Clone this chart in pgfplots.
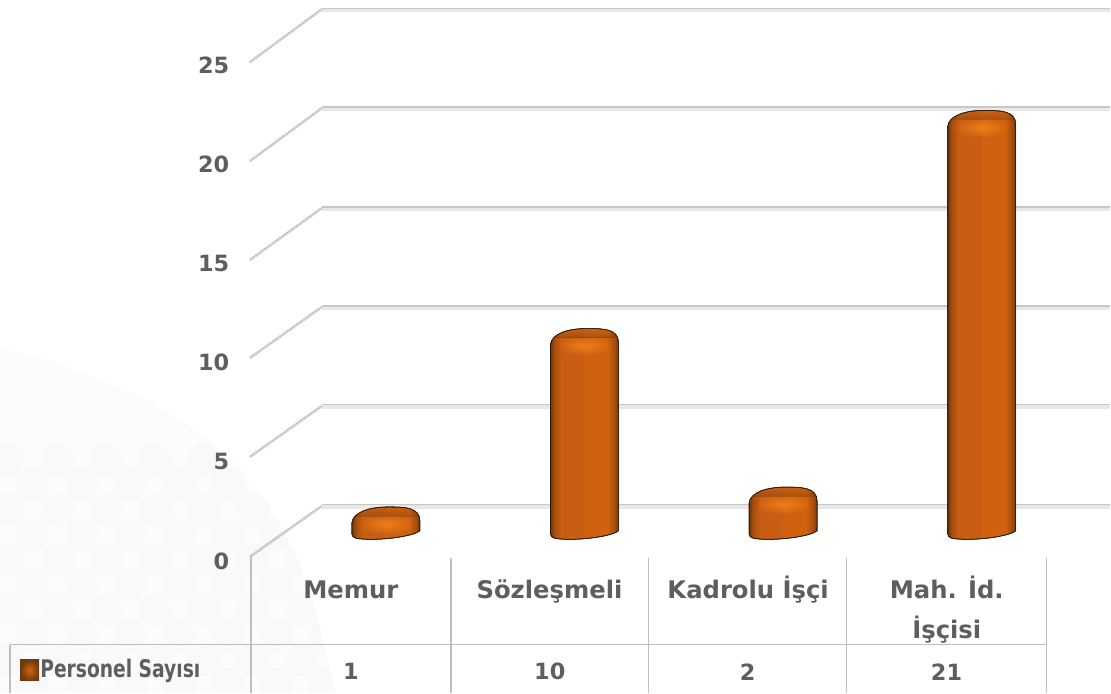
\documentclass[border=0pt]{standalone}
\usepackage{pgfplots}
\pgfplotsset{compat=1.18}
\usepackage{fontspec}
\setmainfont{DejaVu Sans}
\usetikzlibrary{fadings}

\definecolor{txt}{HTML}{5E5E5E}
\definecolor{gridline}{HTML}{BFBFBF}
\definecolor{cdk}{HTML}{6E3A0E}
\definecolor{cedge}{HTML}{A84E0C}
\definecolor{cl}{HTML}{C85E14}
\definecolor{cr}{HTML}{D0620F}
\definecolor{chi}{HTML}{F07E18}

\pgfdeclarehorizontalshading{cyl}{100bp}{
  color(0bp)=(cdk); color(25bp)=(cdk); color(28bp)=(cedge); color(33bp)=(cl);
  color(49.8bp)=(cl); color(50.2bp)=(cr); color(67bp)=(cr); color(72bp)=(cedge);
  color(75bp)=(cdk); color(100bp)=(cdk)}
\tikzfading[name=glow, inner color=transparent!0, outer color=transparent!100]

% one rounded cylinder, its height taken from the point's value
\pgfdeclareplotmark{cyl}{%
  \pgftransformshift{\pgfpoint{26.25pt}{22.5pt}}%
  \begin{scope}[x=.75pt,y=.75pt]
    \pgfmathsetmacro\h{19.84*\barv}
    \def\cylpath{(-34,-16) .. controls (-33,-5) and (-16,0) .. (2,0)
      .. controls (18,0) and (34,0) .. (34,-14) -- (34,{-\h-4})
      .. controls (28,{-\h-9}) and (2,{-\h-13}) .. (-18,{-\h-12.5})
      .. controls (-28,{-\h-12}) and (-34,{-\h-12}) .. (-34,{-\h-7}) -- cycle}
    \shade[shading=cyl] \cylpath;
    \begin{scope}
      \clip \cylpath;
      \fill[chi,path fading=glow] (0,-17) ellipse (28 and 10);
      \fill[cdk,opacity=.4,path fading=north] (-34,0) rectangle (34,-9);
    \end{scope}
    \draw[cdk,opacity=.4,line width=.7pt] \cylpath;
  \end{scope}
}

\tikzset{px/.style={x=.75pt,y=-.75pt}}
\newcommand{\lab}{\fontsize{18.2}{24}\selectfont\bfseries\color{txt}}
\newcommand{\num}{\fontsize{16.8}{20}\selectfont\bfseries\color{txt}}

\begin{document}
\begin{tikzpicture}
% faint backdrop, grid walls and the data table, in picture pixels
\begin{scope}[px]
  \begin{scope}
    \clip (0,347) .. controls (90,370) and (190,410) .. (250,480)
      .. controls (300,540) and (320,620) .. (335,693) -- (0,693) -- cycle;
    \fill[black!1.2] (0,340) rectangle (340,693);
    \foreach \r in {0,...,12}{
      \pgfmathsetmacro\ox{mod(\r,2)*24}
      \foreach \c in {-1,...,8}{
        \fill[black!2.2] ({\c*49+\ox+8},{460+\r*25}) circle (16.5);
      }
    }
  \end{scope}

  \foreach \y/\ys in {8/62,107/161,207/260,306/358,405/457,505/557}{
    \fill[black!9] (322,\y) rectangle (1111,\y+4);
    \draw[black!22,line width=.9pt] (322,\y) -- (1111,\y);
    \draw[black!24,line width=1.9pt,dash pattern=on 1.2pt off .5pt] (250,\ys) -- (322,\y+1);
  }

  \draw[gridline,line width=1.1pt]
    (10,645) -- (1047,645)  (10,645) -- (10,693)
    (251,556) -- (251,693)  (451,558) -- (451,693)  (649,558) -- (649,693)
    (847,558) -- (847,693)  (1047,558) -- (1047,693);

  \shade[inner color=cr,outer color=cdk] (20,660) rectangle (39,681);
  \node[anchor=west,inner sep=0pt] at (40,671) {\lab\scalebox{.77}[1]{Personel Sayısı}};
  \node[inner sep=0pt] at (351,672) {\num 1};
  \node[inner sep=0pt] at (550,672) {\num 10};
  \node[inner sep=0pt] at (748,672) {\num 2};
  \node[inner sep=0pt] at (947,672) {\num 21};
\end{scope}

\begin{axis}[
  at={(0,0)},anchor=north west,
  scale only axis,width=833.25pt,height=519.75pt,
  xmin=-1.766,xmax=3.824,ymin=-6.855,ymax=28.075,
  clip=false,
  axis line style={draw=none},
  major tick length=0pt,
  xtick={0,1,2,3},
  xticklabels={\rule{0pt}{24pt}Memur,\rule{0pt}{24pt}Sözleşmeli,\rule{0pt}{24pt}Kadrolu İşçi,
    {\rule{0pt}{24pt}Mah. İd.\\[6pt]İşçisi}},
  xticklabel style={align=center,anchor=north,yshift=98pt,font=\lab},
  ytick={0,5,10,15,20,25},
  yticklabel style={anchor=east,xshift=175.5pt,yshift=-3.25pt,font=\num},
  /pgf/number format/assume math mode=true,
]
\addplot[scatter,only marks,mark=cyl,
  scatter/use mapped color={draw=none,fill=none},
  visualization depends on={rawy \as \barv}]
  coordinates {(0,1) (1,10) (2,2) (3,21)};
\end{axis}
\end{tikzpicture}
\end{document}
